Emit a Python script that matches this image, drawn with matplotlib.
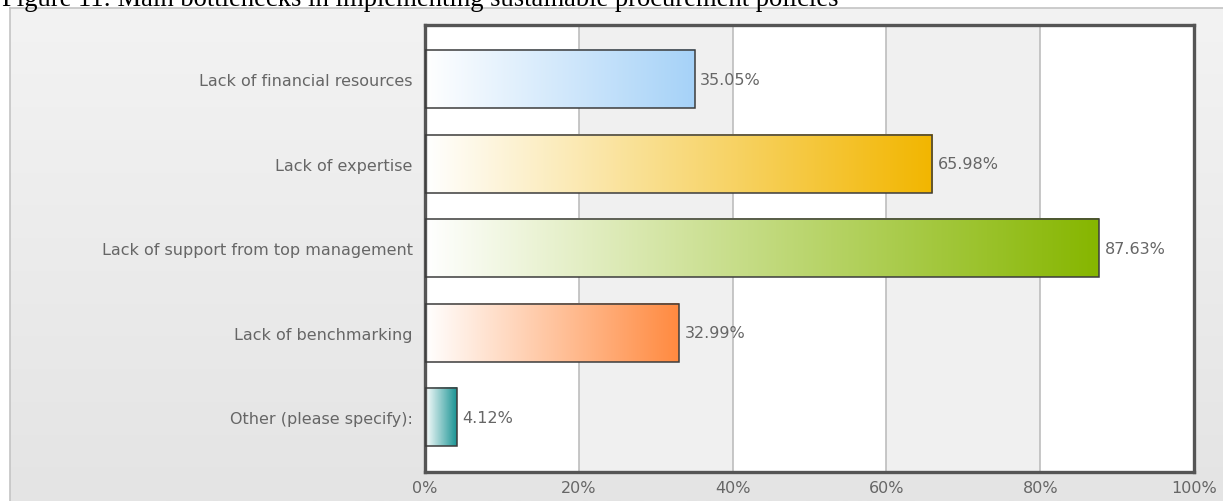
import numpy as np
import matplotlib
matplotlib.use("Agg")
import matplotlib.pyplot as plt
from matplotlib.colors import LinearSegmentedColormap
from matplotlib.patches import Rectangle

title = "Figure 11: Main bottlenecks in implementing sustainable procurement policies"
categories = [
    "Lack of financial resources",
    "Lack of expertise",
    "Lack of support from top management",
    "Lack of benchmarking",
    "Other (please specify):",
]
values = [35.05, 65.98, 87.63, 32.99, 4.12]
bar_colors = ["#a6d2f8", "#f2b600", "#86b600", "#ff8a40", "#1a9494"]
tick_values = [0, 20, 40, 60, 80, 100]
tick_labels = ["0%", "20%", "40%", "60%", "80%", "100%"]

W, H, DPI = 1223, 502, 100
fig = plt.figure(figsize=(W / DPI, H / DPI), dpi=DPI)
fig.patch.set_facecolor("white")

# light gray panel behind the chart, with a soft vertical gradient
panel = fig.add_axes([10 / W, 0, 1 - 10 / W, (H - 9) / H])
grad = np.linspace(0, 1, 256).reshape(-1, 1)
panel_cmap = LinearSegmentedColormap.from_list("panel", ["#f3f3f3", "#e4e4e4"])
panel.imshow(grad, aspect="auto", cmap=panel_cmap, extent=(0, 1, 0, 1), origin="upper")
panel.set_xlim(0, 1)
panel.set_ylim(0, 1)
panel.set_xticks([])
panel.set_yticks([])
for s in panel.spines.values():
    s.set_color("#c4c4c4")
    s.set_linewidth(1.2)
panel.spines["bottom"].set_visible(False)
panel.spines["right"].set_visible(False)

# title partly running off the top edge
fig.text(2 / W, 1 - 6 / H, title, family="Liberation Serif", fontsize=19.2,
         ha="left", va="baseline", color="black")

ax = fig.add_axes([425 / W, (H - 473) / H, (1194 - 425) / W, (473 - 26) / H])
n = len(categories)

# alternating column bands and grid lines
for i in range(5):
    ax.axvspan(i * 20, (i + 1) * 20, color="white" if i % 2 == 0 else "#f0f0f0",
               zorder=0, lw=0)
for t in tick_values[1:-1]:
    ax.axvline(t, color="#bdbdbd", lw=1.2, zorder=1)

label_font = dict(fontsize=11.5, color="#666666", family="DejaVu Sans")

bar_h = 0.686
ramp = np.linspace(0, 1, 256).reshape(1, -1)
for i, (v, c) in enumerate(zip(values, bar_colors)):
    cmap = LinearSegmentedColormap.from_list(f"bar{i}", ["#ffffff", c])
    ax.imshow(ramp, aspect="auto", cmap=cmap, interpolation="bilinear",
              extent=(0, v, i + bar_h / 2, i - bar_h / 2), zorder=2)
    ax.add_patch(Rectangle((0, i - bar_h / 2), v, bar_h, fill=False,
                           edgecolor="#3c3c3c", lw=1.1, zorder=3))
    ax.text(v + 0.75, i, f"{v:.2f}%", ha="left", va="center", zorder=4, **label_font)

ax.set_xlim(0, 100)
ax.set_ylim(n - 1 + 0.645, -0.64)
ax.set_yticks(range(n))
ax.set_yticklabels(categories, **label_font)
ax.set_xticks(tick_values)
ax.set_xticklabels(tick_labels, **label_font)
ax.tick_params(length=0, pad=9, axis="y")
ax.tick_params(length=0, pad=6, axis="x")
for s in ax.spines.values():
    s.set_color("#555555")
    s.set_linewidth(2.4)

fig.savefig("out.png", dpi=DPI)
